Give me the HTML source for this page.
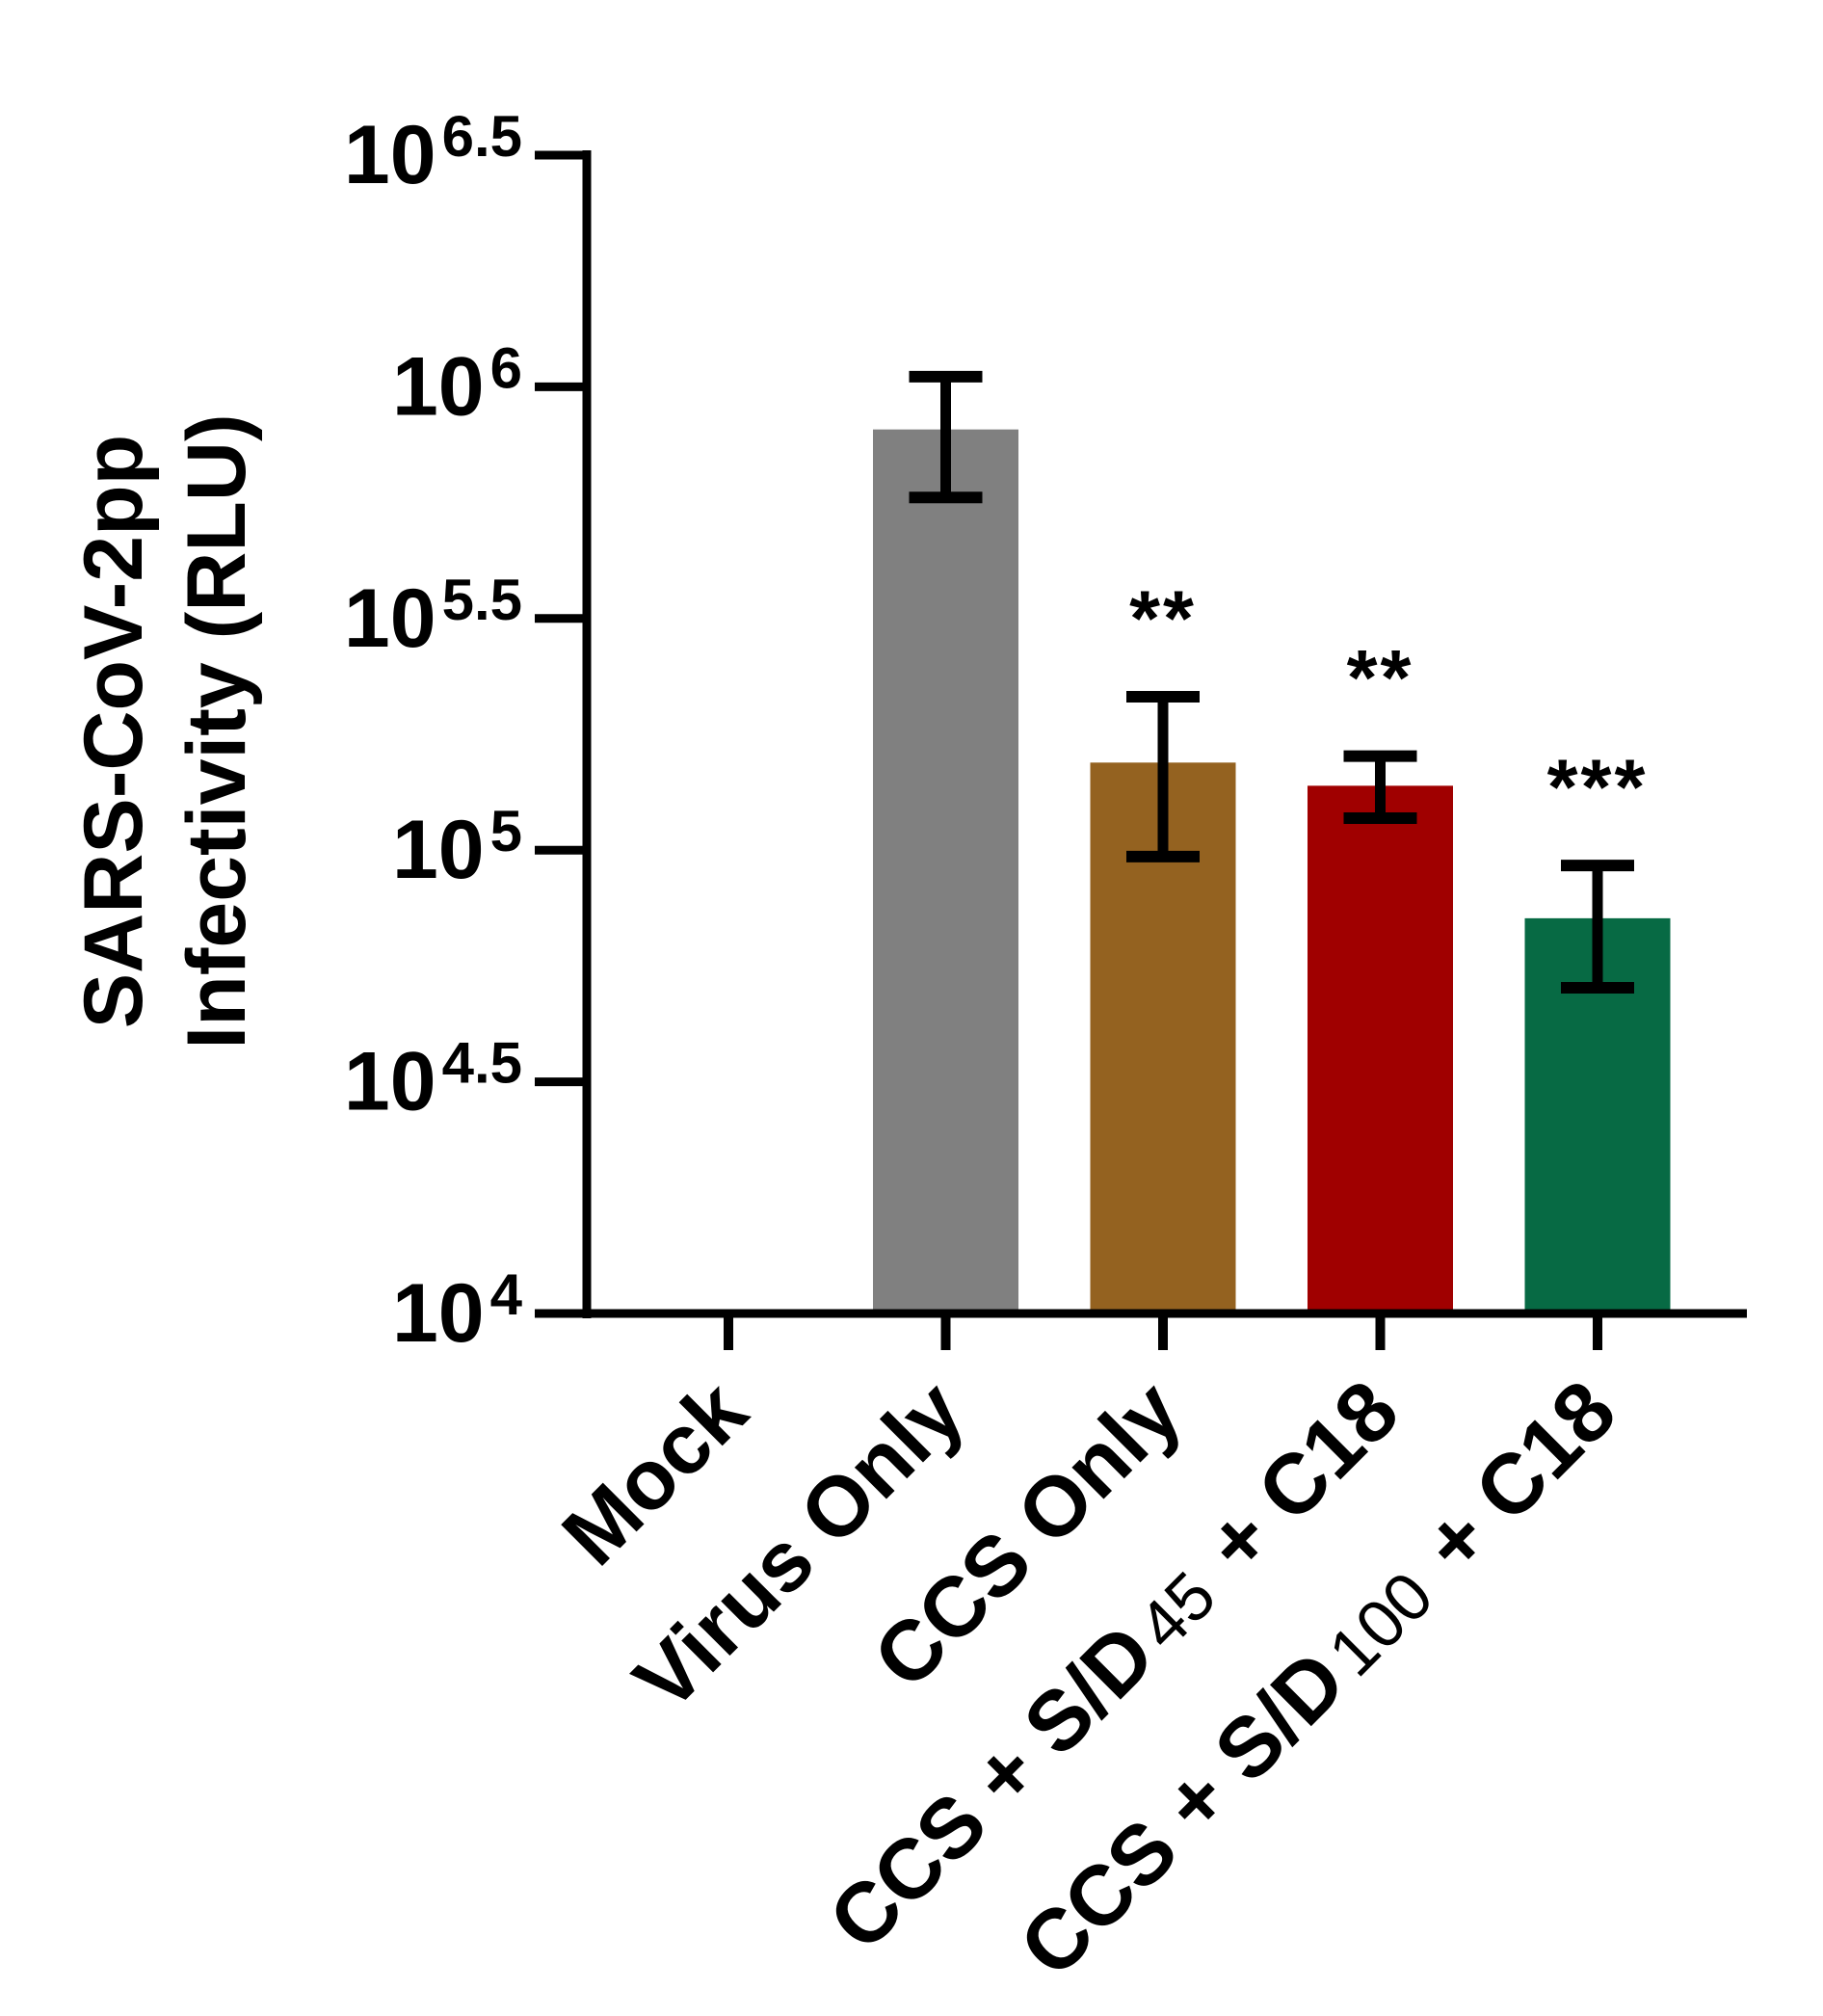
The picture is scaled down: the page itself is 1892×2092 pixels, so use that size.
<!DOCTYPE html>
<html><head><meta charset="utf-8"><style>
html,body{margin:0;padding:0;background:#fff;}
svg{display:block;font-family:"Liberation Sans",Arial,sans-serif;}
</style></head><body>
<svg id="chart" width="1892" height="2092" viewBox="0 0 1892 2092" xmlns="http://www.w3.org/2000/svg">
<g id="yt" font-weight="bold" font-size="86" text-anchor="middle">
<text transform="translate(147,759) rotate(-90)">SARS-CoV-2pp</text>
<text transform="translate(254,759) rotate(-90)">Infectivity (RLU)</text>
</g>
<g id="marks"></g>
<g id="axes"></g>
</svg>
<script>
const categories = ["Mock","Virus Only","CCS Only","CCS + S/D45 + C18","CCS + S/D100 + C18"];
const meansLog = [null, 5.908, 5.189, 5.139, 4.853];
const errLowLog = [null, 5.761, 4.986, 5.069, 4.703];
const errHighLog = [null, 6.022, 5.331, 5.203, 4.967];
const stars = ["", "", "**", "**", "***"];
const colors = ["#808080","#808080","#946220","#a00000","#076a44"];
const yTicks = [4, 4.5, 5, 5.5, 6, 6.5];
const yTickLabels = ["4","4.5","5","5.5","6","6.5"];

const NS = "http://www.w3.org/2000/svg";
const axX = 609, yTop = 161, yBot = 1363, xEnd = 1813;
const x0 = 756, step = 225.5, bw = 151;
function y(v){ return yBot - (v - 4) / 2.5 * (yBot - yTop); }
function x(i){ return x0 + i * step; }
function mk(tag, attrs, parent){ const e = document.createElementNS(NS, tag); for (const k in attrs) e.setAttribute(k, attrs[k]); parent.appendChild(e); return e; }
const marks = document.getElementById('marks'), axes = document.getElementById('axes');

categories.forEach((c, i) => {
  if (meansLog[i] === null) return;
  const b = mk('rect', {x: x(i) - bw/2, y: y(meansLog[i]), width: bw, height: yBot - y(meansLog[i]), fill: colors[i]}, marks);
  
  
  const g = mk('g', {stroke: '#000'}, marks);
  
  
  mk('line', {x1: x(i), x2: x(i), y1: y(errLowLog[i]), y2: y(errHighLog[i]), 'stroke-width': 11}, g);
  mk('line', {x1: x(i) - 38, x2: x(i) + 38, y1: y(errLowLog[i]), y2: y(errLowLog[i]), 'stroke-width': 12}, g);
  mk('line', {x1: x(i) - 38, x2: x(i) + 38, y1: y(errHighLog[i]), y2: y(errHighLog[i]), 'stroke-width': 12}, g);
  if (stars[i]) {
    const t = mk('text', {x: x(i), y: y(errHighLog[i]) - 53, 'text-anchor': 'middle', 'font-size': 82, 'font-weight': 'bold', 'letter-spacing': 3}, marks);
    t.textContent = stars[i];
    
    
  }
});

const ya = mk('line', {x1: axX, x2: axX, y1: yTop - 5, y2: yBot + 5, stroke: '#000', 'stroke-width': 9}, axes);


const xa = mk('line', {x1: 555, x2: xEnd, y1: yBot, y2: yBot, stroke: '#000', 'stroke-width': 9}, axes);



yTicks.forEach((v, i) => {
  mk('line', {x1: 555, x2: axX, y1: y(v), y2: y(v), stroke: '#000', 'stroke-width': 9}, axes);
  const t = mk('text', {x: 542, y: y(v) + 29, 'text-anchor': 'end', 'font-size': 86, 'font-weight': 'bold'}, axes);
  
  
  t.appendChild(document.createTextNode('10'));
  const s = mk('tspan', {'font-size': 60, dy: -28, dx: 6}, t);
  s.textContent = yTickLabels[i];
});

categories.forEach((c, i) => {
  mk('line', {x1: x(i), x2: x(i), y1: yBot, y2: yBot + 38, stroke: '#000', 'stroke-width': 10}, axes);
  const t = mk('text', {transform: 'translate(' + (x(i) + 24) + ',1470) rotate(-45)', 'text-anchor': 'end', 'font-size': 88, 'font-weight': 'bold'}, axes);
  
  
  const m = c.match(/^(.*S\/D)(\d+)( \+ C18)$/);
  if (m) {
    t.appendChild(document.createTextNode(m[1]));
    const s = mk('tspan', {'font-weight': 'normal', 'font-size': 70, dx: 10}, t);
    s.textContent = m[2];
    const r = mk('tspan', {dx: 8}, t);
    r.textContent = m[3];
  } else {
    t.textContent = c;
  }
});
</script>
</body></html>
